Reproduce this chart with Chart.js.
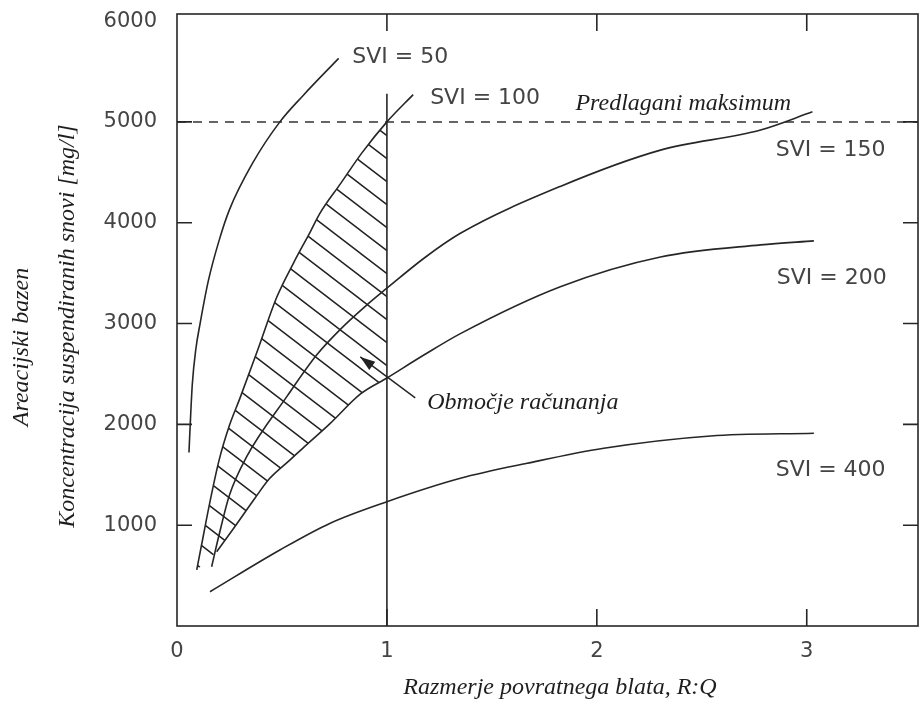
<!DOCTYPE html>
<html>
<head>
<meta charset="utf-8">
<script src="https://cdn.jsdelivr.net/npm/chart.js@4.4.0/dist/chart.umd.min.js"></script>
<style>
  html, body { margin: 0; padding: 0; background: #fff; }
</style>
</head>
<body>
<canvas id="chart" width="920" height="702"></canvas>
<script>
// Curves: x = R:Q, y = suspended solids [mg/l]
const svi50X = [0.057, 0.063, 0.073, 0.09, 0.11, 0.15, 0.2, 0.25, 0.36, 0.49, 0.6, 0.77];
const svi50Y = [1720, 2000, 2400, 2750, 3000, 3430, 3820, 4130, 4590, 5000, 5260, 5630];

const svi100X = [0.094, 0.125, 0.15, 0.2, 0.25, 0.3, 0.39, 0.475, 0.555, 0.635, 0.68, 0.78, 0.88, 1.0, 1.125];
const svi100Y = [556, 890, 1160, 1640, 1990, 2260, 2770, 3260, 3600, 3910, 4090, 4390, 4690, 5000, 5270];

const svi150X = [0.165, 0.2, 0.25, 0.332, 0.523, 0.666, 0.777, 0.905, 1.0, 1.178, 1.35, 1.826, 2.303, 2.78, 3.027];
const svi150Y = [588, 900, 1300, 1680, 2275, 2690, 2940, 3185, 3350, 3650, 3895, 4360, 4720, 4920, 5100];

const svi200X = [0.189, 0.277, 0.372, 0.44, 0.54, 0.6, 0.73, 0.873, 1.0, 1.178, 1.35, 1.826, 2.303, 2.78, 3.034];
const svi200Y = [737, 990, 1270, 1460, 1650, 1765, 2010, 2300, 2460, 2690, 2900, 3365, 3660, 3780, 3820];

const svi400X = [0.157, 0.49, 0.73, 1.0, 1.35, 1.668, 2.033, 2.542, 3.034];
const svi400Y = [340, 754, 1020, 1233, 1465, 1614, 1763, 1885, 1912];

// suggested maximum and the R:Q = 1 design line
const limitX = [0, 3.53];
const limitY = [5000, 5000];
const designX = [1, 1];
const designY = [0, 5280];

// arrow pointing into the calculation area (tail, tip)
const arrowX = [1.135, 0.873];
const arrowY = [2262, 2669];

const xTicks = [0, 1, 2, 3];
const yTicks = [1000, 2000, 3000, 4000, 5000, 6000];

const xTitle = 'Razmerje povratnega blata, R:Q';
const yTitle = ['Areacijski bazen', 'Koncentracija suspendiranih snovi [mg/l]'];

const INK = '#262626';
const SANS = '"DejaVu Sans", sans-serif';
const SERIF = '"Liberation Serif", "DejaVu Serif", serif';

const notes = [
    { text: 'SVI = 50', x: 0.835, y: 5645, serif: false },
    { text: 'SVI = 100', x: 1.206, y: 5238, serif: false },
    { text: 'Predlagani maksimum', x: 1.898, y: 5185, serif: true },
    { text: 'SVI = 150', x: 2.852, y: 4722, serif: false },
    { text: 'SVI = 200', x: 2.857, y: 3452, serif: false },
    { text: 'SVI = 400', x: 2.852, y: 1548, serif: false },
    { text: 'Območje računanja', x: 1.192, y: 2212, serif: true },
];

const pts = (xs, ys) => xs.map((x, i) => ({ x: x, y: ys[i] }));

function hatchPattern() {
    const w = 30, h = 23;
    const c = document.createElement('canvas');
    c.width = w;
    c.height = h;
    const g = c.getContext('2d');
    g.strokeStyle = '#222';
    g.lineWidth = 1.5;
    g.beginPath();
    [-w, 0, w].forEach(dx => {
        g.moveTo(dx - w, -h);
        g.lineTo(dx + 2 * w, 2 * h);
    });
    g.stroke();
    return g.createPattern(c, 'repeat');
}

function curve(label, xs, ys) {
    return {
        label: label,
        data: pts(xs, ys),
        borderColor: INK,
        borderWidth: 1.6,
        pointRadius: 0,
        cubicInterpolationMode: 'monotone',
        fill: false,
        order: 1,
    };
}

// hatched region: SVI 100 up to R:Q = 1, then back down along SVI 200
const hatchPts = pts(svi100X, svi100Y).filter(p => p.x <= 1)
    .concat(pts(svi200X, svi200Y).filter(p => p.x <= 1).reverse());

const decor = {
    id: 'decor',
    afterDatasetsDraw(chart) {
        const { ctx, chartArea: a, scales: { x, y } } = chart;
        ctx.save();
        ctx.strokeStyle = INK;
        ctx.lineWidth = 1.6;
        ctx.strokeRect(a.left, a.top, a.right - a.left, a.bottom - a.top);

        // inward tick marks on all four sides
        ctx.beginPath();
        yTicks.forEach(v => {
            if (v >= 6000) return;
            const py = y.getPixelForValue(v);
            ctx.moveTo(a.left, py);
            ctx.lineTo(a.left + 15, py);
            ctx.moveTo(a.right, py);
            ctx.lineTo(a.right - 15, py);
        });
        xTicks.forEach(v => {
            if (v === 0) return;
            const px = x.getPixelForValue(v);
            ctx.moveTo(px, a.top);
            ctx.lineTo(px, a.top + 17);
            ctx.moveTo(px, a.bottom);
            ctx.lineTo(px, a.bottom - 17);
        });
        ctx.stroke();

        // curve labels
        ctx.textAlign = 'left';
        ctx.textBaseline = 'middle';
        notes.forEach(n => {
            ctx.font = n.serif ? 'italic 24px ' + SERIF : '22px ' + SANS;
            ctx.fillStyle = n.serif ? '#1e1e1e' : '#444';
            ctx.fillText(n.text, x.getPixelForValue(n.x), y.getPixelForValue(n.y));
        });

        // arrow
        const x0 = x.getPixelForValue(arrowX[0]), y0 = y.getPixelForValue(arrowY[0]);
        const x1 = x.getPixelForValue(arrowX[1]), y1 = y.getPixelForValue(arrowY[1]);
        const ang = Math.atan2(y1 - y0, x1 - x0);
        ctx.lineWidth = 1.5;
        ctx.beginPath();
        ctx.moveTo(x0, y0);
        ctx.lineTo(x1, y1);
        ctx.stroke();
        ctx.fillStyle = '#222';
        ctx.beginPath();
        ctx.moveTo(x1, y1);
        ctx.lineTo(x1 - 15 * Math.cos(ang) + 5 * Math.sin(ang), y1 - 15 * Math.sin(ang) - 5 * Math.cos(ang));
        ctx.lineTo(x1 - 15 * Math.cos(ang) - 5 * Math.sin(ang), y1 - 15 * Math.sin(ang) + 5 * Math.cos(ang));
        ctx.closePath();
        ctx.fill();
        ctx.restore();
    },
    afterDraw(chart) {
        const ctx = chart.ctx;
        ctx.save();
        ctx.fillStyle = '#1e1e1e';
        ctx.font = 'italic 24px ' + SERIF;
        ctx.textAlign = 'center';
        ctx.textBaseline = 'middle';
        ctx.fillText(xTitle, 560, 688);
        [[22, 347], [68, 326]].forEach((pos, i) => {
            ctx.save();
            ctx.translate(pos[0], pos[1]);
            ctx.rotate(-Math.PI / 2);
            ctx.fillText(yTitle[i], 0, 0);
            ctx.restore();
        });
        ctx.restore();
    },
};

new Chart(document.getElementById('chart').getContext('2d'), {
    type: 'line',
    data: {
        datasets: [
            {
                label: 'Območje računanja',
                data: hatchPts,
                borderWidth: 0,
                borderColor: 'rgba(0,0,0,0)',
                pointRadius: 0,
                backgroundColor: hatchPattern(),
                fill: 'shape',
                tension: 0,
                order: 5,
            },
            curve('SVI = 50', svi50X, svi50Y),
            curve('SVI = 100', svi100X, svi100Y),
            curve('SVI = 150', svi150X, svi150Y),
            curve('SVI = 200', svi200X, svi200Y),
            curve('SVI = 400', svi400X, svi400Y),
            {
                label: 'Predlagani maksimum',
                data: pts(limitX, limitY),
                borderColor: '#333',
                borderWidth: 1.5,
                borderDash: [9, 7],
                pointRadius: 0,
                fill: false,
                order: 1,
            },
            {
                label: 'R:Q = 1',
                data: pts(designX, designY),
                borderColor: INK,
                borderWidth: 1.6,
                pointRadius: 0,
                fill: false,
                order: 1,
            },
        ],
    },
    options: {
        responsive: false,
        animation: false,
        devicePixelRatio: 1,
        layout: { padding: { top: 14, right: 2, left: 0, bottom: 0 } },
        plugins: {
            legend: { display: false },
            tooltip: { enabled: false },
        },
        scales: {
            x: {
                type: 'linear',
                min: 0,
                max: 3.53,
                grid: { display: false, drawTicks: false },
                border: { display: false },
                ticks: {
                    padding: 13,
                    color: '#444',
                    font: { family: SANS, size: 21 },
                    callback: v => String(v),
                },
                afterBuildTicks: s => { s.ticks = xTicks.map(v => ({ value: v })); },
                afterFit: s => { s.height = 76; },
            },
            y: {
                type: 'linear',
                min: 0,
                max: 6070,
                // tick marks are hidden; tickLength only sets the label gap
                grid: { display: false, drawTicks: true, tickLength: 20 },
                border: { display: false },
                ticks: {
                    padding: 0,
                    color: '#444',
                    font: { family: SANS, size: 21 },
                    callback: v => String(v),
                },
                afterBuildTicks: s => { s.ticks = yTicks.map(v => ({ value: v })); },
                afterFit: s => { s.width = 177; },
            },
        },
    },
    plugins: [decor],
});
</script>
</body>
</html>
